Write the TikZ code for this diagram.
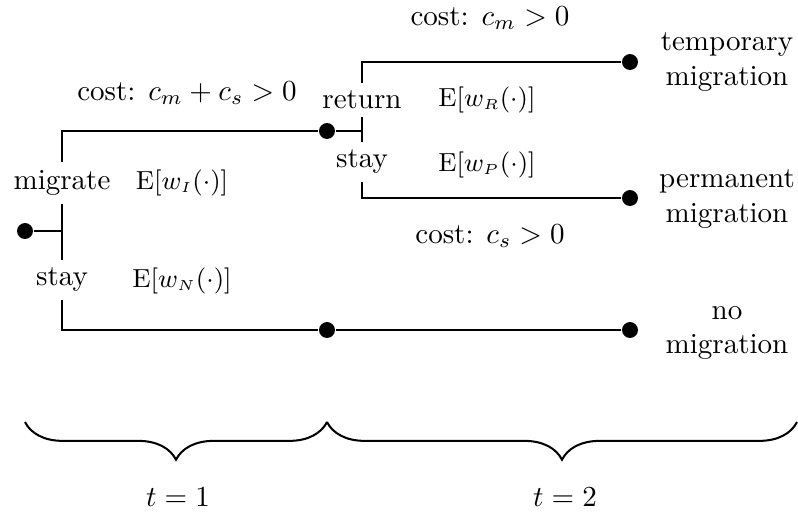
\documentclass[tikz,border=0pt]{standalone}
\usetikzlibrary{decorations.pathreplacing}
\begin{document}
\begin{tikzpicture}[x=0.3446pt, y=-0.3446pt, line width=0.7pt,
  dot/.style={circle, fill=black, inner sep=0pt, minimum size=5.5pt},
  wlab/.style={font=\small},
  outlab/.style={align=center},
  choice/.style={inner sep=2.5pt}]
\useasboundingbox (0,0) rectangle (798,515);
% dots
\node[dot] (d0) at (25,231) {};
\node[dot] (d1) at (327,131) {};
\node[dot] (d2) at (327,330) {};
\node[dot] (d3) at (630,330) {};
\node[dot] (d4) at (630,62) {};
\node[dot] (d5) at (630,198) {};
% corners
\coordinate (j0) at (62,231);
\coordinate (c0t) at (62,131);
\coordinate (c0b) at (62,330);
\coordinate (j1) at (362,131);
\coordinate (c1t) at (362,62);
\coordinate (c1b) at (362,198);
% choice labels
\node[choice] (mig) at (62,183) {migrate};
\node[choice] (st0) at (62,280) {stay};
\node[choice] (ret) at (362,100) {return};
\node[choice] (st1) at (362,162) {stay};
% first stage
\draw (d0) -- (j0);
\draw (mig.south) -- (st0.north);
\draw (mig.north) -- (c0t) -- (d1);
\draw (st0.south) -- (c0b) -- (d2) -- (d3);
% second stage
\draw (d1) -- (j1);
\draw (ret.south) -- (st1.north);
\draw (ret.north) -- (c1t) -- (d4);
\draw (st1.south) -- (c1b) -- (d5);
% cost labels
\node (k1) at (187,93) {cost: $c_m + c_s > 0$};
\node (k2) at (490,18) {cost: $c_m > 0$};
\node (k3) at (490,236) {cost: $c_s > 0$};
% expected wages
\node[wlab] (wi) at (182,183) {E$[w_{\scriptscriptstyle I}(\cdot)]$};
\node[wlab] (wn) at (182,281) {E$[w_{\scriptscriptstyle N}(\cdot)]$};
\node[wlab] (wr) at (487,100) {E$[w_{\scriptscriptstyle R}(\cdot)]$};
\node[wlab] (wp) at (487,165) {E$[w_{\scriptscriptstyle P}(\cdot)]$};
% outcomes
\node[outlab] (o1) at (727,62) {temporary\\migration};
\node[outlab] (o2) at (727,199) {permanent\\migration};
\node[outlab] (o3) at (727,333) {no\\migration};
% braces
\coordinate (b0) at (25,422);
\coordinate (b1) at (327,422);
\coordinate (b2) at (797,422);
\draw[decorate, decoration={brace, mirror, amplitude=13pt}] (b0) -- (b1);
\draw[decorate, decoration={brace, mirror, amplitude=13pt}] (b1) -- (b2);
\node (t1) at (178,497) {$t=1$};
\node (t2) at (565,497) {$t=2$};
\end{tikzpicture}
\end{document}
